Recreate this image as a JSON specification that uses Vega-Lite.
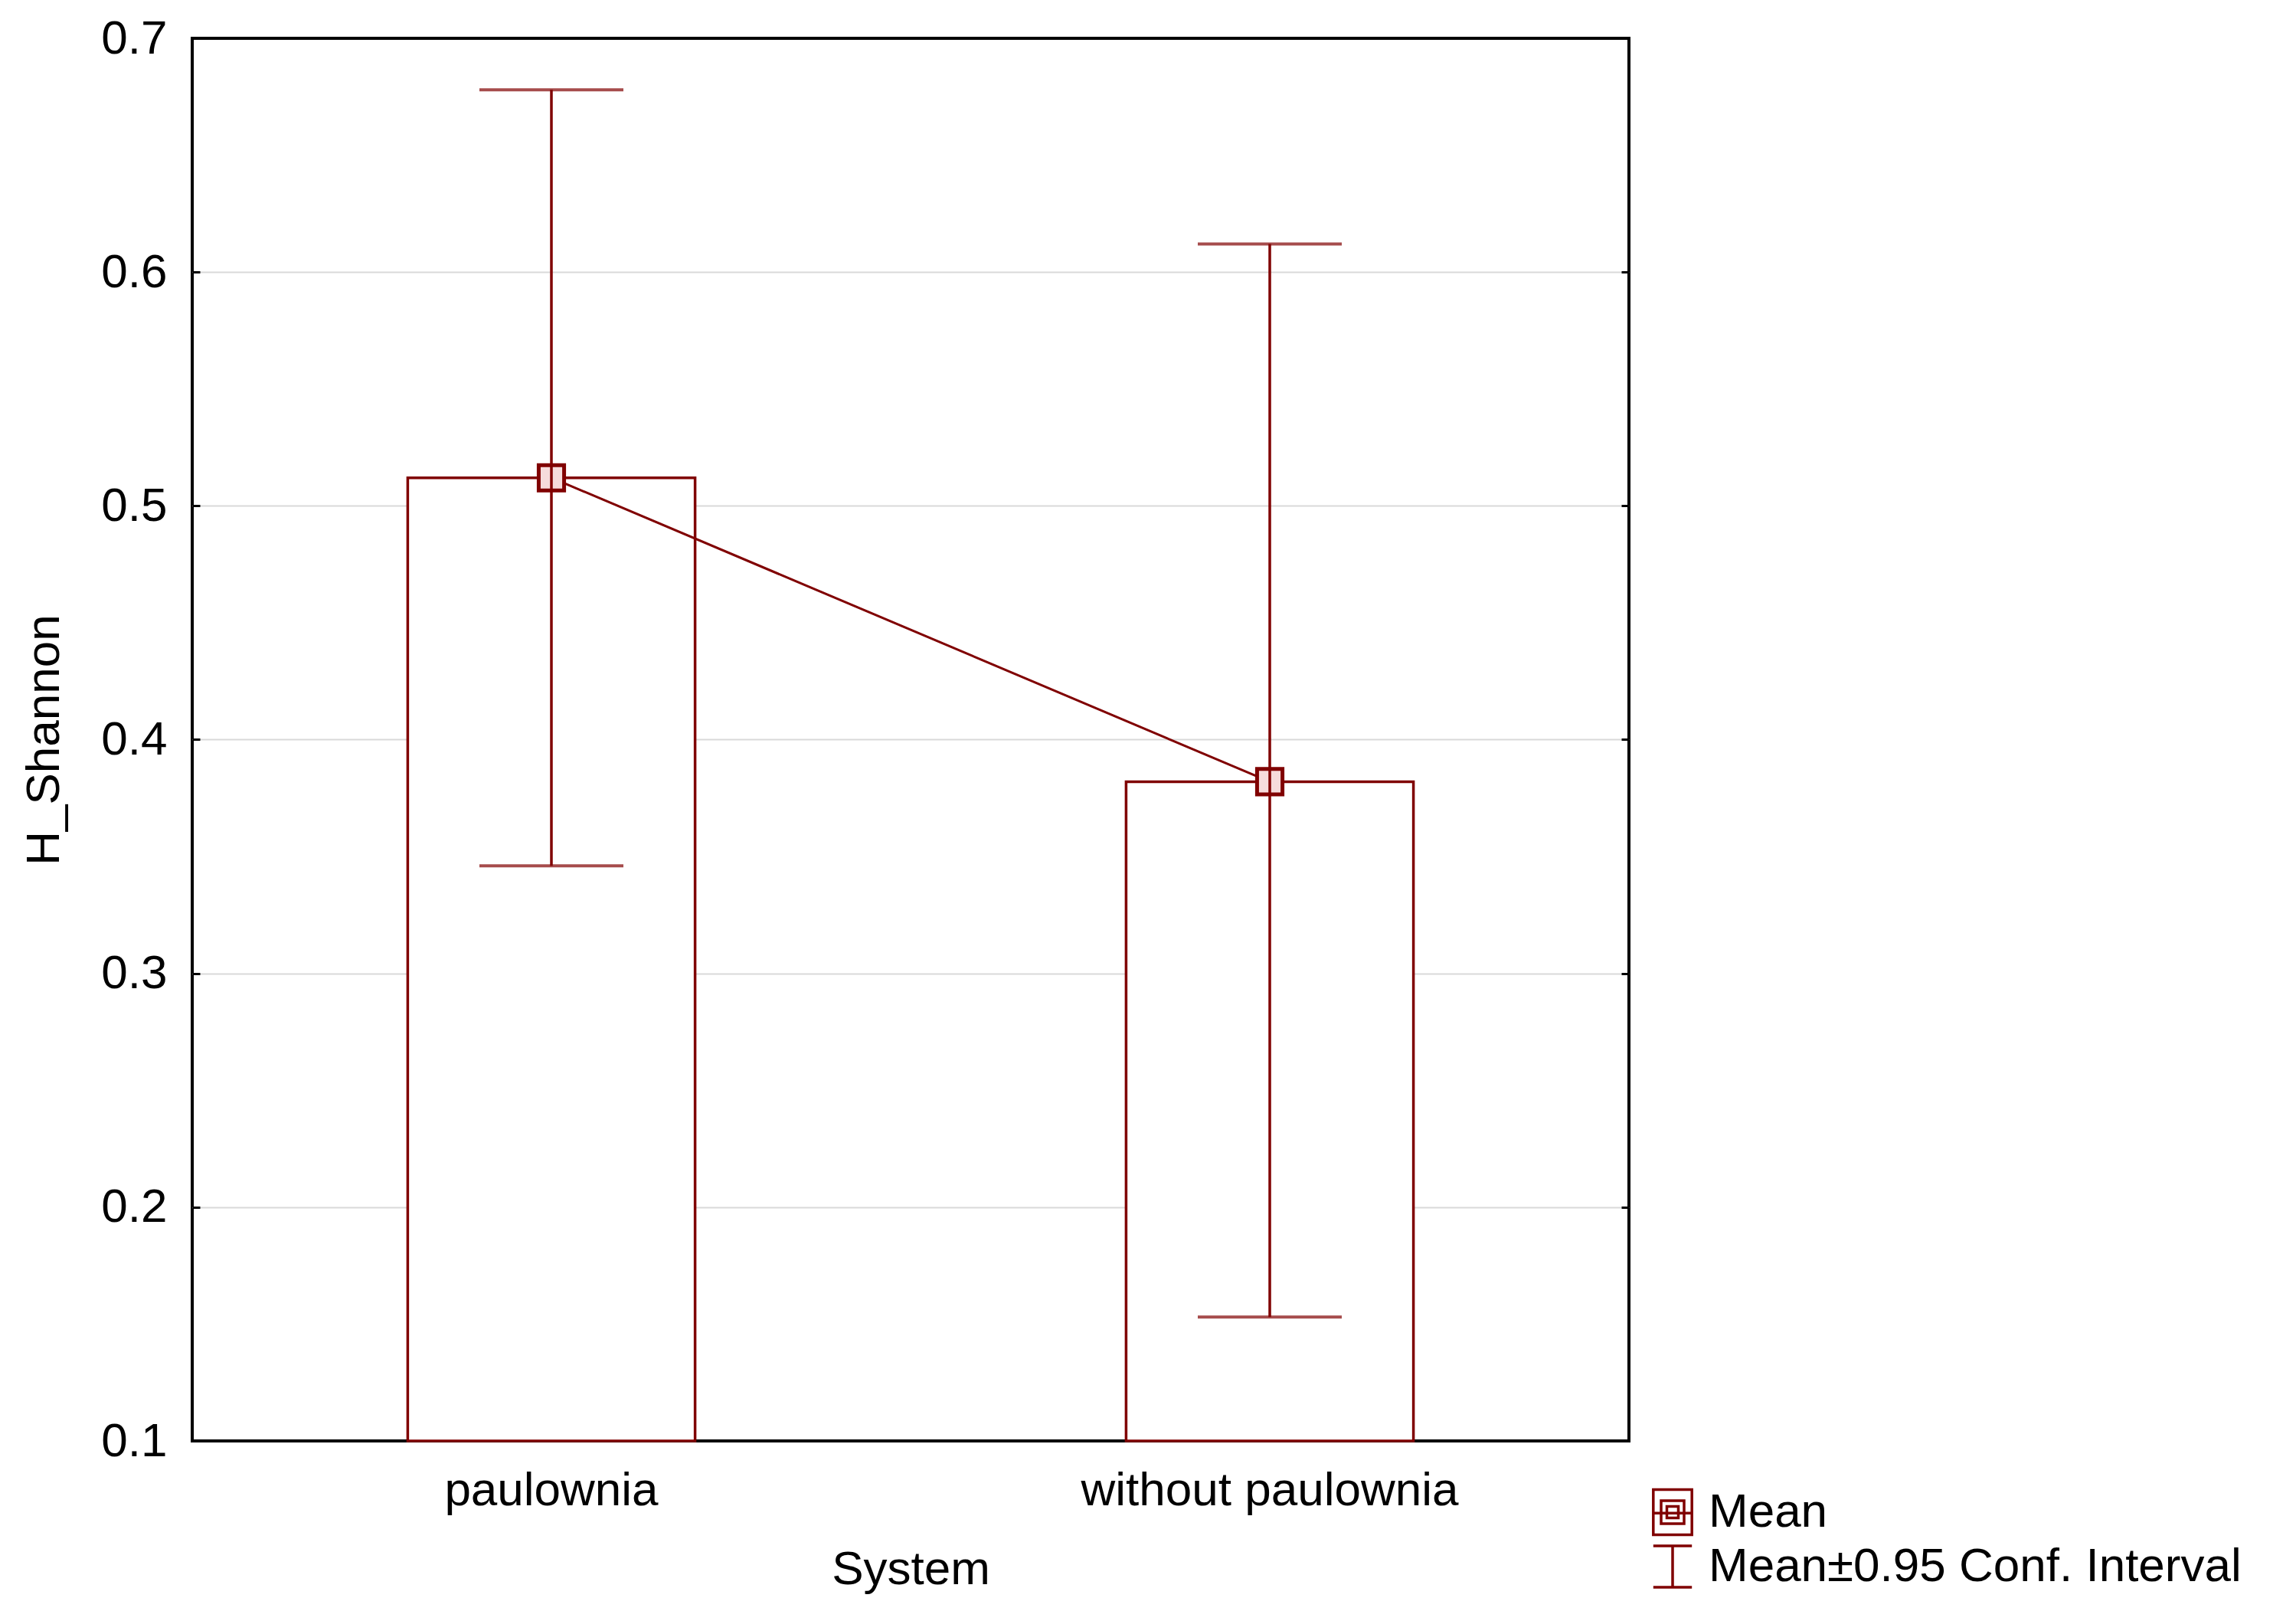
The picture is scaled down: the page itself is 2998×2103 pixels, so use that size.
{
  "$schema": "https://vega.github.io/schema/vega-lite/v6.json",
  "autosize": "none",
  "padding": {"left": 251, "top": 50, "right": 871, "bottom": 222},
  "width": 1876,
  "height": 1831,
  "background": "white",
  "config": {
    "font": "Liberation Sans",
    "view": {"stroke": "#000000", "strokeWidth": 4, "strokeOpacity": 1},
    "axis": {
      "labelFont": "Liberation Sans",
      "labelFontSize": 62,
      "labelColor": "black",
      "labelLimit": 1000,
      "titleFont": "Liberation Sans",
      "titleFontSize": 62,
      "titleFontWeight": "normal",
      "titleColor": "black",
      "tickColor": "black",
      "tickWidth": 3,
      "tickSize": -10,
      "domain": false
    }
  },
  "data": {
    "values": [
      {"System": "paulownia", "mean": 0.512, "lo": 0.346, "hi": 0.678},
      {"System": "without paulownia", "mean": 0.382, "lo": 0.153, "hi": 0.612}
    ]
  },
  "encoding": {
    "x": {
      "field": "System",
      "type": "nominal",
      "sort": null,
      "scale": {"type": "band", "paddingInner": 0, "paddingOuter": 0},
      "axis": {"labelAngle": 0, "labelPadding": 44, "title": "System", "titlePadding": 42, "grid": false}
    }
  },
  "layer": [
    {
      "mark": {"type": "bar", "width": {"band": 0.4}, "fill": "white", "stroke": "#800000", "strokeWidth": 3.5},
      "encoding": {
        "y": {
          "field": "mean",
          "type": "quantitative",
          "scale": {"domain": [0.1, 0.7], "nice": false, "zero": false},
          "axis": {
            "values": [0.1, 0.2, 0.3, 0.4, 0.5, 0.6, 0.7],
            "format": ".1f",
            "title": "H_Shannon",
            "titlePadding": 42,
            "labelPadding": 43,
            "grid": true,
            "gridColor": {"condition": {"test": "datum.value <= 0.1001 || datum.value >= 0.6999", "value": "black"}, "value": "#d9d9d9"},
            "gridWidth": 2
          }
        },
        "y2": {"datum": 0.1}
      }
    },
    {
      "mark": {"type": "line", "color": "#800000", "strokeWidth": 3},
      "encoding": {"y": {"field": "mean", "type": "quantitative", "axis": null}}
    },
    {
      "mark": {"type": "point", "shape": "square", "size": 1100, "filled": true, "fill": "#f6dcdc", "stroke": "#800000", "strokeWidth": 5, "opacity": 1},
      "encoding": {"y": {"field": "mean", "type": "quantitative", "axis": null}}
    },
    {
      "mark": {"type": "rule", "color": "#800000", "strokeWidth": 3.5},
      "encoding": {
        "y": {"field": "lo", "type": "quantitative", "axis": {"orient": "right", "labels": false, "title": null, "grid": false, "values": [0.1, 0.2, 0.3, 0.4, 0.5, 0.6, 0.7]}},
        "y2": {"field": "hi"}
      }
    },
    {
      "mark": {"type": "tick", "color": "#800000", "size": 188, "thickness": 4},
      "encoding": {"y": {"field": "lo", "type": "quantitative", "axis": null}}
    },
    {
      "mark": {"type": "tick", "color": "#800000", "size": 188, "thickness": 4},
      "encoding": {"y": {"field": "hi", "type": "quantitative", "axis": null}}
    },
    {
      "mark": {"type": "point", "opacity": 0, "color": "#800000", "filled": false, "size": 3600},
      "encoding": {
        "y": {"field": "mean", "type": "quantitative", "axis": null},
        "shape": {
          "datum": "Mean",
          "scale": {
            "domain": ["Mean", "Mean±0.95 Conf. Interval"],
            "range": [
              "M-0.84,-0.98H0.84V0.98H-0.84ZM-0.84,0.04H0.84M-0.5,-0.5H0.5V0.5H-0.5ZM-0.25,-0.25H0.25V0.25H-0.25Z",
              "M-0.84,-0.9H0.84M0,-0.9V0.9M-0.84,0.9H0.84"
            ]
          },
          "legend": {
            "title": null,
            "orient": "none",
            "legendX": 1901,
            "legendY": 1892,
            "padding": 0,
            "symbolSize": 3600,
            "symbolOpacity": 1,
            "symbolStrokeColor": "#800000",
            "symbolFillColor": "transparent",
            "symbolStrokeWidth": 3.5,
            "labelFont": "Liberation Sans",
            "labelFontSize": 62,
            "labelColor": "black",
            "labelOffset": 15,
            "rowPadding": 0,
            "labelLimit": 0
          }
        }
      }
    }
  ],
  "resolve": {"axis": {"y": "independent"}}
}
